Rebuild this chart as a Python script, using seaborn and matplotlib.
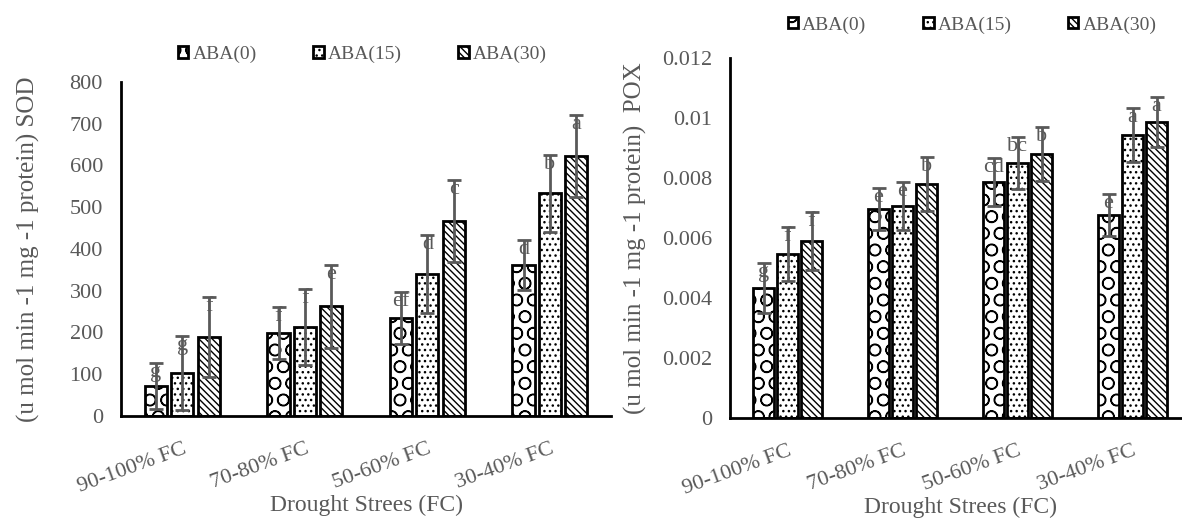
import pandas as pd
import matplotlib
matplotlib.use("Agg")
import matplotlib.pyplot as plt
import seaborn as sns

stress = ["90-100% FC", "70-80% FC", "50-60% FC", "30-40% FC"]
aba = ["ABA(0)", "ABA(15)", "ABA(30)"]

# SOD (left)
sod_0 = [72, 199, 235, 362]
sod_15 = [103, 213, 340, 533]
sod_30 = [189, 263, 467, 623]
sod_err_0 = [55, 62, 62, 60]
sod_err_15 = [89, 91, 93, 92]
sod_err_30 = [96, 99, 98, 98]
sod_let_0 = ["g", "f", "ef", "d"]
sod_let_15 = ["g", "f", "d", "b"]
sod_let_30 = ["f", "e", "c", "a"]
sod_ticks = [0, 100, 200, 300, 400, 500, 600, 700, 800]

# POX (right)
pox_0 = [0.00433, 0.00697, 0.00787, 0.00677]
pox_15 = [0.00547, 0.00707, 0.0085, 0.00943]
pox_30 = [0.0059, 0.0078, 0.0088, 0.00987]
pox_err_0 = [0.00084, 0.0007, 0.0008, 0.0007]
pox_err_15 = [0.0009, 0.0008, 0.00087, 0.0009]
pox_err_30 = [0.00097, 0.0009, 0.0009, 0.00083]
pox_let_0 = ["g", "e", "cd", "e"]
pox_let_15 = ["f", "e", "bc", "a"]
pox_let_30 = ["f", "b", "b", "a"]
pox_ticks = [0, 0.002, 0.004, 0.006, 0.008, 0.01, 0.012]
pox_tick_labels = ["0", "0.002", "0.004", "0.006", "0.008", "0.01", "0.012"]

hatches = ["O", "...", "\\\\\\\\\\"]
grey = "#595959"

sns.set_style("white")
plt.rcParams["font.family"] = ["Liberation Serif", "DejaVu Serif"]
plt.rcParams["hatch.linewidth"] = 1.0


def make_df(v0, v15, v30):
    rows = []
    for lvl, vals in zip(aba, [v0, v15, v30]):
        for s, v in zip(stress, vals):
            rows.append({"Stress": s, "ABA": lvl, "Value": v})
    return pd.DataFrame(rows)


def draw(ax, df, errs, letters, ticks, ticklabels, ylim, ylabel, width, gap,
         leg_xy, ypad):
    sns.barplot(data=df, x="Stress", y="Value", hue="ABA", order=stress,
                hue_order=aba, errorbar=None, width=width, gap=gap,
                color="white", edgecolor="black", linewidth=2,
                legend=False, ax=ax)
    for cont, h, err, lets in zip(ax.containers, hatches, errs, letters):
        for bar, e, t in zip(cont, err, lets):
            bar.set_facecolor("white")
            bar.set_hatch(h)
            cx = bar.get_x() + bar.get_width() / 2
            top = bar.get_height()
            ax.errorbar(cx, top, yerr=e, color=grey, lw=2, capsize=5,
                        capthick=2, zorder=5)
            ax.text(cx, top + e, t, color=grey, fontsize=16, ha="center",
                    va="top", zorder=6)
    ax.set_xlim(-0.5, 3.5)
    ax.set_ylim(*ylim)
    ax.set_yticks(ticks)
    ax.set_yticklabels(ticklabels)
    ax.tick_params(axis="both", length=0, labelsize=16, colors=grey)
    ax.tick_params(axis="x", pad=17)
    ax.tick_params(axis="y", pad=13)
    for lab in ax.get_xticklabels():
        lab.set_rotation(20)
        lab.set_ha("right")
        lab.set_rotation_mode("anchor")
    ax.set_xlabel("Drought Strees (FC)", fontsize=17, color=grey, labelpad=-1)
    ax.set_ylabel(ylabel, fontsize=18, color=grey, labelpad=ypad)
    sns.despine(ax=ax)
    for side in ["left", "bottom"]:
        ax.spines[side].set_linewidth(2)
        ax.spines[side].set_color("black")
    leg = ax.legend(ax.containers, aba, loc="center", bbox_to_anchor=leg_xy,
                    ncol=3, frameon=False, fontsize=14, handlelength=0.55,
                    handleheight=0.55, handletextpad=0.2, columnspacing=2.9,
                    borderaxespad=0)
    for t in leg.get_texts():
        t.set_color(grey)


fig = plt.figure(figsize=(11.82, 5.19), dpi=100)
ax1 = fig.add_axes([0.1024, 0.1985, 0.4146, 0.6435])
ax2 = fig.add_axes([0.6176, 0.1946, 0.3892, 0.6936])

draw(ax1, make_df(sod_0, sod_15, sod_30), [sod_err_0, sod_err_15, sod_err_30],
     [sod_let_0, sod_let_15, sod_let_30], sod_ticks, [str(t) for t in sod_ticks],
     (0, 800), "(u mol min -1 mg -1 protein) SOD", 0.644, 0.16, (0.492, 1.084), 21)
draw(ax2, make_df(pox_0, pox_15, pox_30), [pox_err_0, pox_err_15, pox_err_30],
     [pox_let_0, pox_let_15, pox_let_30], pox_ticks, pox_tick_labels,
     (0, 0.012), "(u mol min -1 mg -1 protein)  POX", 0.626, 0.1, (0.526, 1.092), 11)

fig.savefig("out.png", dpi=100)
